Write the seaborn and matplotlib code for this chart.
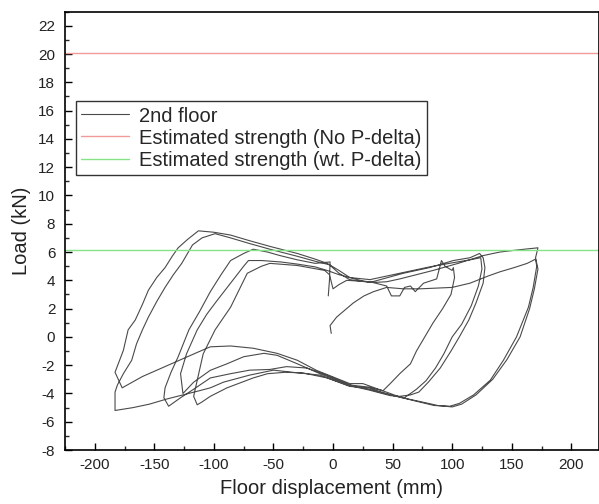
import numpy as np
import pandas as pd
import matplotlib
matplotlib.use('Agg')
import matplotlib.pyplot as plt
from matplotlib.ticker import MultipleLocator
import seaborn as sns

# Hysteresis of the 2nd floor (mm, kN), in drawing order
# start -> first push to +170
disp_start = [-1.5, -2.5, 3, 10, 17, 26, 34, 45, 59, 73, 87, 100, 115, 130, 140, 152, 163, 170]
load_start = [0.25, 0.8, 1.4, 1.9, 2.4, 2.9, 3.2, 3.5, 3.4, 3.4, 3.45, 3.5, 3.8, 4.3, 4.6, 4.9, 5.2, 5.5]
# unload from +170 and lower branch to -177 (top lower strand)
disp_c1 = [171, 168, 164, 154, 143, 132, 118, 106, 98, 85, 70, 56, 48, 25, 14, -14, -30, -47, -67, -86, -103, -113, -141, -160, -177, -183]
load_c1 = [5.0, 3.5, 2.1, 0.0, -1.65, -3.06, -4.1, -4.7, -4.9, -4.85, -4.55, -4.25, -4.0, -3.3, -3.3, -2.36, -1.65, -1.16, -0.8, -0.64, -0.7, -1.06, -2.1, -2.8, -3.6, -2.5]
# reload (outer) and upper branch to +172
disp_c2 = [-176, -172, -166, -160, -155, -148, -141, -135, -130, -122, -113, -100, -86, -70, -53, -30, -15, -5, 5, 14, 25, 34, 45, 56, 70, 84, 105, 126, 140, 155, 172]
load_c2 = [-0.95, 0.5, 1.2, 2.3, 3.3, 4.2, 4.9, 5.7, 6.3, 6.9, 7.5, 7.4, 7.2, 6.8, 6.4, 5.9, 5.5, 5.2, 4.7, 4.2, 3.95, 3.85, 3.9, 4.1, 4.4, 4.7, 5.2, 5.75, 6.0, 6.15, 6.3]
# unload from +172 and bottom branch to -183
disp_c3 = [170, 172, 169, 165, 157, 146, 134, 120, 108, 100, 88, 72, 58, 48, 30, 14, -11, -34, -50, -70, -92, -103, -112, -126, -140, -154, -168, -183]
load_c3 = [5.6, 4.8, 3.4, 2.0, 0.0, -1.6, -3.0, -4.1, -4.75, -4.95, -4.85, -4.55, -4.3, -4.1, -3.6, -3.5, -2.7, -2.5, -2.35, -2.7, -3.2, -3.6, -3.8, -4.1, -4.4, -4.75, -5.0, -5.2]
# reload (inner) and upper branch to +123
disp_c4 = [-183, -181, -176, -169, -165, -160, -155, -148, -141, -134, -127, -118, -110, -99, -86, -70, -53, -30, -15, -3, 5, 14, 31, 59, 81, 101, 115, 123]
load_c4 = [-3.9, -3.4, -2.6, -1.65, -0.5, 0.5, 1.4, 2.5, 3.5, 4.4, 5.2, 6.5, 7.0, 7.3, 7.0, 6.6, 6.2, 5.7, 5.35, 5.1, 4.5, 4.05, 3.85, 4.5, 4.9, 5.4, 5.6, 5.9]
# unload from +123 and lower branch to -114
disp_c5 = [126, 127.5, 126, 120, 114, 106, 99, 90, 80, 72, 65, 56, 48, 30, 14, -5, -25, -40, -55, -67, -89, -103, -110, -114]
load_c5 = [5.6, 4.9, 3.8, 2.4, 1.2, 0.0, -1.0, -2.2, -3.2, -3.9, -4.1, -4.2, -4.15, -3.75, -3.45, -2.9, -2.55, -2.5, -2.6, -2.9, -3.6, -4.2, -4.6, -4.8]
# reload and jagged upper branch to +101
disp_c6 = [-117, -114, -109, -99, -86, -72, -60, -53, -30, -7, -3, 0, 5, 11.5, 31, 45, 49, 56, 60, 65, 69, 76, 87, 91, 94, 100, 101, 102]
load_c6 = [-4.2, -3.06, -1.2, 0.5, 2.1, 4.5, 5.0, 5.2, 5.05, 4.7, 4.4, 3.4, 3.7, 4.0, 3.9, 3.6, 2.9, 2.9, 3.5, 3.6, 3.2, 3.8, 4.1, 5.4, 5.0, 4.7, 4.9, 4.2]
# unload from +101 and lower branch to -126
disp_c7 = [99, 92, 84, 77, 70, 65, 56, 48, 42, 30, 14, -11, -30, -47, -58, -75, -89, -103, -117, -126]
load_c7 = [3.0, 2.0, 1.0, 0.0, -1.0, -1.9, -2.6, -3.3, -3.8, -3.55, -3.4, -2.6, -1.9, -1.3, -1.16, -1.4, -1.9, -2.36, -3.2, -4.0]
# reload and upper branch to +124
disp_c8 = [-128, -123, -114, -106, -98, -86, -75, -71, -60, -44, -30, -15, -5, 5, 14, 31, 59, 81, 101, 115, 124]
load_c8 = [-2.6, -1.2, 0.5, 1.6, 2.5, 3.8, 5.0, 5.4, 5.4, 5.3, 5.15, 4.95, 4.7, 4.4, 4.2, 4.05, 4.55, 4.95, 5.25, 5.45, 5.6]
# unload from +124 and lower branch to -138
disp_c9 = [125, 122, 116, 108, 100, 93, 86, 78, 70, 60, 48, 30, 14, -5, -22, -39, -53, -70, -86, -103, -117, -128, -138]
load_c9 = [4.8, 3.6, 2.2, 0.9, 0.0, -1.2, -2.2, -3.1, -3.7, -4.3, -4.1, -3.7, -3.4, -2.7, -2.2, -2.1, -2.3, -2.35, -2.6, -2.9, -3.7, -4.3, -4.9]
# last reload, upper branch and end of record
disp_end = [-142, -141, -136, -130, -121, -112, -103, -94, -86, -75, -67, -55, -44.5, -30, -15, -2.5, -3, -4]
load_end = [-4.3, -3.6, -2.5, -1.4, 0.5, 1.8, 3.2, 4.4, 5.4, 5.9, 6.2, 6.0, 5.75, 5.45, 5.2, 5.3, 4.0, 2.9]

strength_no_pdelta = 20.1
strength_wt_pdelta = 6.15

disp = (disp_start + disp_c1 + disp_c2 + disp_c3 + disp_c4 + disp_c5
        + disp_c6 + disp_c7 + disp_c8 + disp_c9 + disp_end)
load = (load_start + load_c1 + load_c2 + load_c3 + load_c4 + load_c5
        + load_c6 + load_c7 + load_c8 + load_c9 + load_end)
df = pd.DataFrame({'disp': disp, 'load': load})

sns.set_theme(style='ticks')
plt.rcParams['font.family'] = ['Liberation Sans', 'DejaVu Sans']
plt.rcParams['axes.unicode_minus'] = False

fig = plt.figure(figsize=(5.99, 5.04), dpi=100)
ax = fig.add_axes([0.1085, 0.107, 0.891, 0.870])

sns.lineplot(data=df, x='disp', y='load', sort=False, estimator=None,
             color='#4a4a4a', lw=0.8, ax=ax, label='2nd floor')
ax.axhline(strength_no_pdelta, color='#f29a9a', lw=1.0,
           label='Estimated strength (No P-delta)')
ax.axhline(strength_wt_pdelta, color='#86e386', lw=1.0,
           label='Estimated strength (wt. P-delta)')

ax.set_xlim(-225, 223)
ax.set_ylim(-8, 23)
ax.xaxis.set_major_locator(MultipleLocator(50))
ax.xaxis.set_minor_locator(MultipleLocator(25))
ax.yaxis.set_major_locator(MultipleLocator(2))
ax.yaxis.set_minor_locator(MultipleLocator(1))
ax.tick_params(which='major', direction='in', length=5, width=1, labelsize=11,
               top=False, right=False, color='black', labelcolor='#222222')
ax.tick_params(axis='y', which='major', pad=7)
ax.tick_params(axis='x', which='major', pad=6)
ax.tick_params(which='minor', direction='in', length=3, width=1, top=False, right=False)
for s in ax.spines.values():
    s.set_color('black')
    s.set_linewidth(1.2)

ax.set_xlabel('Floor displacement (mm)', fontsize=14.5, color='#222222', labelpad=5)
ax.set_ylabel('Load (kN)', fontsize=14.5, color='#222222', labelpad=5)

leg = ax.legend(loc='upper left', bbox_to_anchor=(0.02, 0.795), borderaxespad=0,
                fontsize=14.5, frameon=True, fancybox=False, handlelength=2.4,
                handletextpad=0.5, borderpad=0.25, labelspacing=0.15)
leg.get_frame().set_edgecolor('black')
leg.get_frame().set_linewidth(1.0)

plt.savefig('out.png', dpi=100)
